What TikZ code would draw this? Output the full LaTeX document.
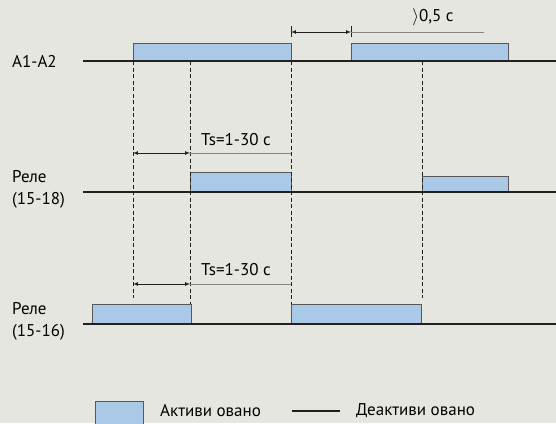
\documentclass[tikz,border=0pt]{standalone}
\usepackage{fontspec}
\setmainfont{PT Sans}
\definecolor{bg}{HTML}{E6E6E0}
\definecolor{pulsefill}{HTML}{A9C9E6}
\definecolor{ink}{HTML}{231F20}
\tikzset{
    baseline/.style={line width=2.4pt, ink},
    pulse/.style={draw=ink!75, fill=pulsefill, line width=0.9pt},
    guide/.style={dash pattern=on 4pt off 2.5pt, line width=1pt, ink},
    dimarrow/.style={<->, >=latex, line width=0.7pt, ink},
    extline/.style={line width=0.8pt, ink!55},
    lbl/.style={font=\fontsize{17}{22}\selectfont, inner sep=0pt},
}
\begin{document}
\begin{tikzpicture}[x=1pt,y=-1pt]
    \useasboundingbox[fill=bg] (0,0) rectangle (556,423);
    \coordinate (P1) at (133,61);
    \coordinate (P2) at (190,61);
    \coordinate (P3) at (291,61);
    \coordinate (P4) at (351,61);
    \coordinate (P5) at (422,61);
    % pulses
    \draw[pulse] (133,61) rectangle (291,43);
    \draw[pulse] (351,61) rectangle (508,43);
    \draw[pulse] (190,192) rectangle (291,172);
    \draw[pulse] (422,192) rectangle (508,176);
    \draw[pulse] (92,324) rectangle (191,304);
    \draw[pulse] (291,324) rectangle (421,304);
    % guides
    \draw[guide] (P1) -- (133,298);
    \draw[guide] (P2) -- (190,304);
    \draw[guide] (P3) -- (291,304);
    \draw[guide] (P5) -- (422,298);
    % baselines
    \draw[baseline] (83,61) -- (556,61);
    \draw[baseline] (83,192) -- (556,192);
    \draw[baseline] (83,324) -- (556,324);
    % pause
    \draw[line width=0.7pt, ink] (291,26) -- (291,37);
    \draw[line width=0.7pt, ink] (351,26) -- (351,37);
    \draw[dimarrow] (291,32) -- (351,32);
    \draw[extline] (351,32) -- (484,32);
    \node[lbl] at (433,17) {$\rangle$0,5 c};
    % Ts
    \draw[dimarrow] (133,153) -- (190,153);
    \draw[extline] (190,153) -- (291,153);
    \node[lbl] at (236,140) {Ts=1-30 c};
    \draw[dimarrow] (133,284) -- (190,284);
    \draw[extline] (190,284) -- (291,284);
    \node[lbl] at (236,270) {Ts=1-30 c};
    % labels
    \node[lbl, anchor=west] at (12,61) {A1-A2};
    \node[lbl, anchor=west, align=left] at (12,189) {Реле\\(15-18)};
    \node[lbl, anchor=west, align=left] at (12,321) {Реле\\(15-16)};
    % legend
    \draw[pulse] (95,401) rectangle (143,424);
    \node[lbl, anchor=west] at (160,411) {Активи овано};
    \draw[line width=1.6pt, ink] (292,411) -- (340,411);
    \node[lbl, anchor=west] at (356,411) {Деактиви овано};
\end{tikzpicture}
\end{document}
